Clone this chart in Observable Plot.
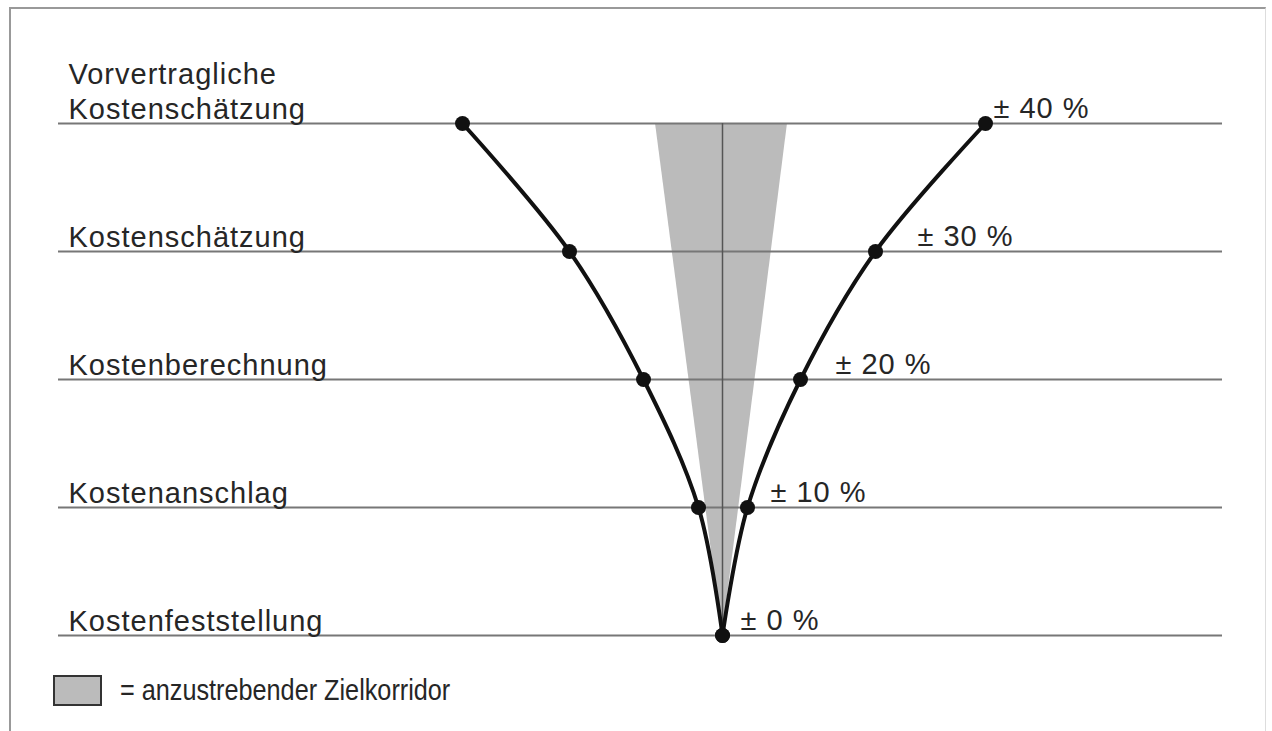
<!DOCTYPE html>
<html>
<head>
<meta charset="utf-8">
<script src="https://cdn.jsdelivr.net/npm/d3@7"></script>
<script src="https://cdn.jsdelivr.net/npm/@observablehq/plot@0.6"></script>
<style>
  html, body { margin: 0; padding: 0; background: #fff; }
  body { width: 1272px; height: 731px; position: relative; overflow: hidden; font-family: "Liberation Sans", Arial, sans-serif; }
  #frame { position: absolute; left: 9px; top: 7px; width: 1254px; height: 740px; border-left: 2px solid #999; border-top: 2px solid #999; border-right: 1px solid #ddd; pointer-events: none; }
  #chart { position: absolute; left: 0; top: 0; }
  #chart svg text { letter-spacing: 1px; }
  #legend { position: absolute; left: 53px; top: 674px; display: flex; align-items: center; color: #262626; font-size: 29px; }
  #legend .sw { width: 45px; height: 27px; background: #bbbbbb; border: 2px solid #333; margin-right: 18px; flex: none; }
  #legend span { display: inline-block; transform: scaleX(0.87); transform-origin: left center; white-space: nowrap; }
</style>
</head>
<body>
<div id="chart"></div>
<div id="legend"><div class="sw"></div><span>= anzustrebender Zielkorridor</span></div>
<div id="frame"></div>
<script>
// Stages (top to bottom)
const stages = ["Vorvertragliche\nKostenschätzung", "Kostenschätzung", "Kostenberechnung", "Kostenanschlag", "Kostenfeststellung"];
const tolerance = ["± 40 %", "± 30 %", "± 20 %", "± 10 %", "± 0 %"];
// horizontal offsets of the funnel points from the centre line
const leftX = [-260, -153, -79, -24, 0];
const rightX = [263, 153, 78, 25, 0];
// tolerance label anchor (offset from centre)
const labelX = [271, 195, 113, 48, 18];
// target corridor half-widths at top and bottom stage
const corridorStage = [0, 4];
const corridorLo = [-67, 0];
const corridorHi = [65, 0];
const stageLabelX = -654;

const idx = stages.map((_, i) => i);
const leftPts = idx.map(i => ({s: i, x: leftX[i]}));
const rightPts = idx.map(i => ({s: i, x: rightX[i]}));
const corridor = corridorStage.map((s, i) => ({s, lo: corridorLo[i], hi: corridorHi[i]}));

const plot = Plot.plot({
  width: 1272,
  height: 660,
  marginLeft: 58,
  marginRight: 50,
  marginTop: 123,
  marginBottom: 25,
  x: {domain: [-664, 500], axis: null},
  y: {domain: [0, 4], reverse: true, axis: null},
  style: {fontFamily: "'Liberation Sans', Arial, sans-serif", background: "transparent", color: "#222"},
  marks: [
    Plot.areaX(corridor, {y: "s", x1: "lo", x2: "hi", fill: "#bbbbbb"}),
    Plot.ruleY(idx, {y: d => d, stroke: "#777", strokeWidth: 2}),
    Plot.ruleX([0], {y1: 0, y2: 4, stroke: "#555", strokeWidth: 1.5}),
    Plot.line(leftPts, {x: "x", y: "s", curve: "catmull-rom", stroke: "#111", strokeWidth: 4}),
    Plot.line(rightPts, {x: "x", y: "s", curve: "catmull-rom", stroke: "#111", strokeWidth: 4}),
    Plot.dot(leftPts.concat(rightPts), {x: "x", y: "s", r: 7.5, fill: "#111"}),
    Plot.text(idx, {x: stageLabelX, y: d => d, text: d => stages[d], textAnchor: "start", lineAnchor: "bottom", dy: -5, fontSize: 29, lineHeight: 1.2, fill: "#262626"}),
    Plot.text(idx, {x: d => labelX[d], y: d => d, text: d => tolerance[d], textAnchor: "start", lineAnchor: "bottom", dy: -6, fontSize: 29, fill: "#262626"})
  ]
});
document.getElementById("chart").appendChild(plot);
</script>
</body>
</html>
